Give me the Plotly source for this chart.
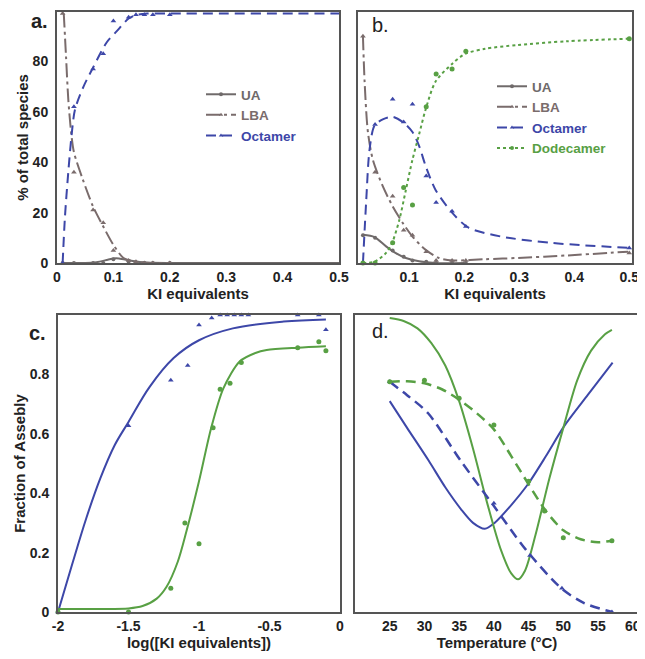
import plotly.graph_objects as go

# The page body has an 8px margin, so the figure is drawn 8px in and down.
OFF = 8
W, H = 637, 643

# ---------------- Panel a data (KI equivalents vs % of total species) ----------------
a_pts_x = [0.01, 0.03, 0.064, 0.082, 0.1, 0.127, 0.14, 0.155, 0.17, 0.2]
a_ua_pts = [0, 0, 0, 0, 1.5, 0.5, 0, 0, 0, 0]
a_lba_pts = [99, 36, 21, 16, 5, 1, 0.5, 0, 0, 0]
a_oct_pts = [0, 62, 77, 83, 96, 97.5, 98.5, 98.5, 98.5, 98.5]

a_ua_fit_x = [0.01, 0.05, 0.07, 0.09, 0.1, 0.11, 0.13, 0.15, 0.2, 0.5]
a_ua_fit_y = [0, 0, 0.3, 1.3, 1.8, 1.8, 1.0, 0.3, 0, 0]
a_lba_fit_x = [0.012, 0.016, 0.02, 0.025, 0.03, 0.046, 0.064, 0.082, 0.1, 0.118, 0.136, 0.165, 0.2]
a_lba_fit_y = [99, 82, 65, 52, 44, 33, 22.4, 14.5, 7.2, 2, 0.7, 0, 0]
a_oct_fit_x = [0.01, 0.014, 0.02, 0.026, 0.032, 0.047, 0.065, 0.088, 0.106, 0.127, 0.142, 0.16, 0.2, 0.3, 0.4, 0.5]
a_oct_fit_y = [0, 18, 36, 51, 61, 70, 78, 87.5, 92, 97, 98.5, 99, 99, 99, 99, 99]

# ---------------- Panel b data ----------------
b_pts_x = [0.016, 0.038, 0.07, 0.09, 0.106, 0.131, 0.149, 0.178, 0.203, 0.5]
b_ua_pts = [11, 10, 5, 2.5, 1, 0.5, 0, 0, 0, None]
b_lba_pts = [90, 36, 26.5, 13, 11, 4.5, 1, 1, 1, 4]
b_oct_pts = [0, 55, 65, 56, 63, 34.5, 24, 20.5, 14.5, 6]
b_dod_pts = [0, 0, 8, 30, 23, 62, 75, 77, 84, 89]

b_ua_fit_x = [0.016, 0.037, 0.058, 0.075, 0.094, 0.118, 0.148, 0.2]
b_ua_fit_y = [11.2, 10.3, 6.6, 4, 2, 0.7, 0, 0]
b_lba_fit_x = [0.016, 0.019, 0.025, 0.034, 0.052, 0.07, 0.088, 0.106, 0.13, 0.154, 0.178, 0.238, 0.297, 0.387, 0.498]
b_lba_fit_y = [90, 72, 52, 41, 30.5, 22.5, 16, 10.5, 5.2, 2, 1, 1.5, 2, 3, 4.5]
b_oct_fit_x = [0.016, 0.022, 0.028, 0.037, 0.052, 0.07, 0.088, 0.106, 0.118, 0.13, 0.148, 0.178, 0.208, 0.267, 0.357, 0.498]
b_oct_fit_y = [0, 25, 45, 54.5, 57, 58, 56, 52, 46.5, 38.5, 29, 20, 14, 10.5, 8, 6]
b_dod_fit_x = [0.016, 0.037, 0.058, 0.069, 0.082, 0.094, 0.106, 0.118, 0.13, 0.148, 0.178, 0.202, 0.238, 0.297, 0.387, 0.5]
b_dod_fit_y = [0, 0.5, 4, 8, 17, 29, 41, 51, 61, 72, 79, 83, 85, 86.5, 88, 89]

# ---------------- Panel c data (log KI equivalents vs fraction of assembly) ----------------
c_oct_x = [-2, -1.5, -1.2, -1.08, -1.0, -0.91, -0.85, -0.8, -0.75, -0.7, -0.65, -0.3, -0.15, -0.1]
c_oct_y = [0, 0.627, 0.78, 0.83, 0.966, 0.99, 1.0, 1.0, 1.0, 1.0, 1.0, 1.0, 1.0, 0.95]
c_dod_x = [-2, -1.5, -1.2, -1.1, -1.0, -0.9, -0.85, -0.78, -0.7, -0.3, -0.15, -0.1]
c_dod_y = [0, 0.0, 0.08, 0.30, 0.23, 0.62, 0.75, 0.77, 0.84, 0.89, 0.91, 0.88]

c_oct_fit_x = [-2, -1.9, -1.8, -1.7, -1.6, -1.5, -1.35, -1.18, -1.0, -0.76, -0.4, -0.1]
c_oct_fit_y = [0, 0.16, 0.315, 0.45, 0.56, 0.64, 0.758, 0.855, 0.915, 0.955, 0.978, 0.985]
c_dod_fit_x = [-2, -1.7, -1.5, -1.4, -1.3, -1.23, -1.15, -1.09, -1.0, -0.915, -0.827, -0.71, -0.6, -0.52, -0.3, -0.1]
c_dod_fit_y = [0.01, 0.01, 0.012, 0.02, 0.045, 0.085, 0.17, 0.27, 0.44, 0.617, 0.753, 0.844, 0.872, 0.882, 0.89, 0.895]

# ---------------- Panel d data (temperature) ----------------
d_oct_T = [25, 40, 45.2, 49.8, 57]
d_oct_v = [0.775, 0.366, 0.19, 0.08, 0.0]
d_dod_T = [25, 30, 35, 40, 45, 47.3, 50, 57]
d_dod_v = [0.775, 0.78, 0.72, 0.63, 0.44, 0.34, 0.25, 0.24]

d_oct_dash_T = [25, 27.5, 30.5, 35.2, 39.9, 44.6, 49.7, 53, 57]
d_oct_dash_v = [0.775, 0.73, 0.67, 0.51, 0.36, 0.21, 0.08, 0.03, 0.0]
d_dod_dash_T = [25, 27.5, 30, 32.5, 35, 37.5, 40, 42.5, 45, 47.5, 50, 52.5, 55, 57]
d_dod_dash_v = [0.775, 0.777, 0.77, 0.75, 0.715, 0.67, 0.615, 0.525, 0.43, 0.34, 0.275, 0.245, 0.235, 0.24]
d_oct_solid_T = [25, 27.5, 30.6, 33, 35.3, 37, 38.7, 40.1, 42.5, 44.9, 47.5, 50.1, 53.5, 57.1]
d_oct_solid_v = [0.71, 0.62, 0.51, 0.42, 0.345, 0.30, 0.28, 0.30, 0.36, 0.43, 0.525, 0.625, 0.73, 0.84]
d_dod_solid_T = [25, 27, 29, 31, 33, 35, 37, 39, 41, 42.5, 43.5, 44.5, 46, 48, 50, 52, 54, 56, 57]
d_dod_solid_v = [0.99, 0.98, 0.955, 0.905, 0.83, 0.71, 0.55, 0.37, 0.21, 0.13, 0.11, 0.14, 0.26, 0.45, 0.62, 0.78, 0.88, 0.935, 0.95]

# ---------------- styles ----------------
BLUE = "#3d47a8"
GREEN = "#58a044"
GRAY_UA = "#6f6a6a"
GRAY_LBA = "#7a6c6c"
TXT = "#222222"
FONT = "Liberation Sans"

DASH_OCT = "10px,6px"
DASH_LBA = "14px,4px,3px,4px"
DASH_DOD = "3px,3px"


def pxx(p):
    return (p - OFF) / W


def pxy(p):
    return 1 - (p - OFF) / H


def dom_x(l, r):
    return [pxx(l), pxx(r)]


def dom_y(t, b):
    return [pxy(b), pxy(t)]


fig = go.Figure()


def add_fit(x, y, xa, ya, color, dash, width=2, smooth=0.8):
    fig.add_trace(go.Scatter(x=x, y=y, mode="lines", xaxis=xa, yaxis=ya,
                             line=dict(color=color, width=width, dash=dash, shape="spline", smoothing=smooth),
                             showlegend=False, hoverinfo="skip"))


def add_pts(x, y, xa, ya, color, symbol, size=5):
    fig.add_trace(go.Scatter(x=x, y=y, mode="markers", xaxis=xa, yaxis=ya,
                             marker=dict(color=color, symbol=symbol, size=size),
                             showlegend=False, cliponaxis=False, hoverinfo="skip"))


def add_legend_item(name, color, dash, symbol, legend, xa, ya):
    fig.add_trace(go.Scatter(x=[None], y=[None], mode="lines+markers", xaxis=xa, yaxis=ya,
                             name=f"<span style='color:{color}'>{name}</span>",
                             line=dict(color=color, width=2, dash=dash),
                             marker=dict(color=color, symbol=symbol, size=4),
                             legend=legend, showlegend=True))


# Panel a
add_fit(a_ua_fit_x, a_ua_fit_y, "x", "y", GRAY_UA, "solid")
add_fit(a_lba_fit_x, a_lba_fit_y, "x", "y", GRAY_LBA, DASH_LBA)
add_fit(a_oct_fit_x, a_oct_fit_y, "x", "y", BLUE, DASH_OCT)
add_pts(a_pts_x, a_ua_pts, "x", "y", GRAY_UA, "circle", 4)
add_pts(a_pts_x, a_lba_pts, "x", "y", GRAY_LBA, "triangle-up", 5)
add_pts(a_pts_x, a_oct_pts, "x", "y", BLUE, "triangle-up", 5)
add_legend_item("UA", GRAY_UA, "solid", "circle", "legend", "x", "y")
add_legend_item("LBA", GRAY_LBA, DASH_LBA, "triangle-up", "legend", "x", "y")
add_legend_item("Octamer", BLUE, DASH_OCT, "triangle-up", "legend", "x", "y")

# Panel b
add_fit(b_ua_fit_x, b_ua_fit_y, "x2", "y2", GRAY_UA, "solid")
add_fit(b_lba_fit_x, b_lba_fit_y, "x2", "y2", GRAY_LBA, DASH_LBA)
add_fit(b_oct_fit_x, b_oct_fit_y, "x2", "y2", BLUE, DASH_OCT)
add_fit(b_dod_fit_x, b_dod_fit_y, "x2", "y2", GREEN, DASH_DOD)
add_pts(b_pts_x, b_ua_pts, "x2", "y2", GRAY_UA, "circle", 4)
add_pts(b_pts_x, b_lba_pts, "x2", "y2", GRAY_LBA, "triangle-up", 5)
add_pts(b_pts_x, b_oct_pts, "x2", "y2", BLUE, "triangle-up", 5)
add_pts(b_pts_x, b_dod_pts, "x2", "y2", GREEN, "circle", 5)
add_legend_item("UA", GRAY_UA, "solid", "circle", "legend2", "x2", "y2")
add_legend_item("LBA", GRAY_LBA, DASH_LBA, "triangle-up", "legend2", "x2", "y2")
add_legend_item("Octamer", BLUE, DASH_OCT, "triangle-up", "legend2", "x2", "y2")
add_legend_item("Dodecamer", GREEN, DASH_DOD, "circle", "legend2", "x2", "y2")

# Panel c
add_fit(c_oct_fit_x, c_oct_fit_y, "x3", "y3", BLUE, "solid", smooth=1.0)
add_fit(c_dod_fit_x, c_dod_fit_y, "x3", "y3", GREEN, "solid")
add_pts(c_oct_x, c_oct_y, "x3", "y3", BLUE, "triangle-up", 5)
add_pts(c_dod_x, c_dod_y, "x3", "y3", GREEN, "circle", 5)

# Panel d
add_fit(d_oct_solid_T, d_oct_solid_v, "x4", "y4", BLUE, "solid")
add_fit(d_dod_solid_T, d_dod_solid_v, "x4", "y4", GREEN, "solid")
add_fit(d_oct_dash_T, d_oct_dash_v, "x4", "y4", BLUE, DASH_OCT, 2.5)
add_fit(d_dod_dash_T, d_dod_dash_v, "x4", "y4", GREEN, DASH_OCT, 2.5)
add_pts(d_oct_T, d_oct_v, "x4", "y4", BLUE, "triangle-up", 5)
add_pts(d_dod_T, d_dod_v, "x4", "y4", GREEN, "circle", 5)

tickfont = dict(family=FONT, size=14, color=TXT, weight="bold")
titlefont = dict(family=FONT, size=15, color=TXT, weight="bold")
axis_common = dict(showline=True, mirror=True, linewidth=2, linecolor="#555555",
                   showgrid=False, zeroline=False, ticks="", tickfont=tickfont,
                   automargin=False, fixedrange=True, ticklabeloverflow="allow")

label_font_b = dict(family=FONT, size=20, color=TXT, weight="bold")
label_font_r = dict(family=FONT, size=20, color=TXT)

fig.update_layout(
    width=W, height=H,
    margin=dict(l=0, r=0, t=0, b=0),
    paper_bgcolor="white", plot_bgcolor="white",
    font=dict(family=FONT, color=TXT),
    xaxis=dict(domain=dom_x(57, 339), range=[0, 0.5], anchor="y",
               tickvals=[0, 0.1, 0.2, 0.3, 0.4, 0.5], ticktext=["0", "0.1", "0.2", "0.3", "0.4", "0.5"],
               title=dict(text="KI equivalents", font=titlefont, standoff=5), ticklabelstandoff=0, **axis_common),
    yaxis=dict(domain=dom_y(12, 263), range=[0, 99.6], anchor="x",
               tickvals=[0, 20, 40, 60, 80],
               title=dict(text="% of total species", font=titlefont, standoff=0), ticklabelstandoff=4, **axis_common),
    xaxis2=dict(domain=dom_x(358, 632), range=[0.007, 0.505], anchor="y2",
                tickvals=[0.1, 0.2, 0.3, 0.4, 0.5], ticktext=["0.1", "0.2", "0.3", "0.4", "0.5"],
                title=dict(text="KI equivalents", font=titlefont, standoff=5), ticklabelstandoff=0, **axis_common),
    yaxis2=dict(domain=dom_y(12, 263), range=[0, 99.6], anchor="x2", showticklabels=False, **axis_common),
    xaxis3=dict(domain=dom_x(58, 340), range=[-2, 0], anchor="y3",
                tickvals=[-2, -1.5, -1, -0.5, 0], ticktext=["-2", "-1.5", "-1", "-0.5", "0"],
                title=dict(text="log([KI equivalents])", font=titlefont, standoff=5), ticklabelstandoff=0, **axis_common),
    yaxis3=dict(domain=dom_y(315, 612), range=[0, 1.0], anchor="x3",
                tickvals=[0, 0.2, 0.4, 0.6, 0.8], ticktext=["0", "0.2", "0.4", "0.6", "0.8"],
                title=dict(text="Fraction of Assebly", font=titlefont, standoff=0), ticklabelstandoff=4, **axis_common),
    xaxis4=dict(domain=dom_x(355, 639), range=[20, 60.9], anchor="y4",
                tickvals=[25, 30, 35, 40, 45, 50, 55, 60],
                title=dict(text="Temperature (°C)", font=titlefont, standoff=5), ticklabelstandoff=0, **axis_common),
    yaxis4=dict(domain=dom_y(315, 612), range=[0, 1.0], anchor="x4", showticklabels=False, **axis_common),
    legend=dict(x=pxx(201), y=pxy(79), xanchor="left", yanchor="top", bgcolor="rgba(0,0,0,0)",
                font=dict(family=FONT, size=13.5, weight="bold"), itemwidth=30, tracegroupgap=0),
    legend2=dict(x=pxx(492), y=pxy(71), xanchor="left", yanchor="top", bgcolor="rgba(0,0,0,0)",
                 font=dict(family=FONT, size=13.5, weight="bold"), itemwidth=30, tracegroupgap=0),
    annotations=[
        dict(text="a.", x=pxx(39), y=pxy(21), xref="paper", yref="paper", showarrow=False,
             xanchor="center", yanchor="middle", font=label_font_b),
        dict(text="b.", x=pxx(380), y=pxy(25), xref="paper", yref="paper", showarrow=False,
             xanchor="center", yanchor="middle", font=label_font_r),
        dict(text="c.", x=pxx(37), y=pxy(333), xref="paper", yref="paper", showarrow=False,
             xanchor="center", yanchor="middle", font=label_font_b),
        dict(text="d.", x=pxx(380), y=pxy(331), xref="paper", yref="paper", showarrow=False,
             xanchor="center", yanchor="middle", font=label_font_r),
    ],
)

fig.write_html("out.html")
